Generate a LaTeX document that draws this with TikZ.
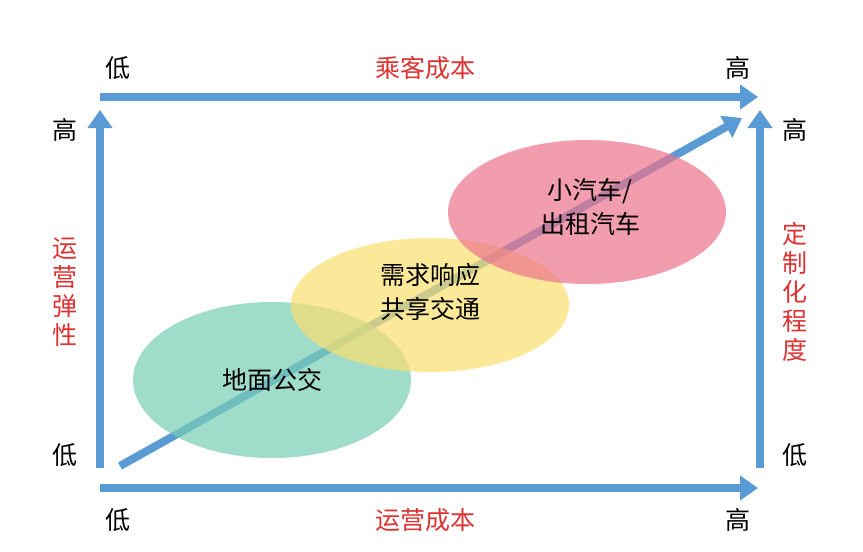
\documentclass[tikz,border=0pt]{standalone}
\usepackage{fontspec}
\newfontfamily\cjk{Noto Sans CJK SC}
\usetikzlibrary{arrows.meta}
\definecolor{ablue}{RGB}{91,155,213}
\definecolor{ared}{RGB}{220,50,50}
\definecolor{egreen}{RGB}{120,205,180}
\definecolor{eyellow}{RGB}{250,222,110}
\definecolor{epink}{RGB}{235,115,140}
\tikzset{
  bigarrow/.style={draw=ablue,line width=8pt,arrows={-Triangle[length=18pt,width=24pt]}},
  lbl/.style={font=\cjk\fontsize{25}{28}\selectfont,text=black},
  rlbl/.style={font=\cjk\fontsize{25}{29}\selectfont,text=ared,align=center},
  ell/.style={fill opacity=0.7,draw=none},
  etext/.style={font=\cjk\fontsize{25}{34}\selectfont,align=center}
}
\begin{document}
\begin{tikzpicture}[x=1pt,y=-1pt]
\useasboundingbox (0,0) rectangle (863,552);
\coordinate (tl) at (100,97); \coordinate (tr) at (758,97);
\coordinate (bl) at (100,488); \coordinate (br) at (758,488);
\coordinate (lb) at (100,468); \coordinate (lt) at (100,110);
\coordinate (rb) at (760,468); \coordinate (rt) at (760,110);
\coordinate (ds) at (120,466); \coordinate (de) at (742,118);
\draw[bigarrow] (tl) -- (tr);
\draw[bigarrow] (bl) -- (br);
\draw[bigarrow] (lb) -- (lt);
\draw[bigarrow] (rb) -- (rt);
\draw[bigarrow] (ds) -- (de);
\fill[egreen,ell] (272,380) ellipse [x radius=139,y radius=78];
\fill[eyellow,ell] (430,305) ellipse [x radius=139,y radius=67];
\fill[epink,ell] (587,212) ellipse [x radius=139,y radius=72];
\node[etext] (e1) at (272,380) {地面公交};
\node[etext] (e2) at (430,292) {需求响应\\共享交通};
\node[etext] (e3) at (590,207) {小汽车/\\出租汽车};
\node[lbl] (a1) at (118,68) {低};
\node[rlbl] (a2) at (425,68) {乘客成本};
\node[lbl] (a3) at (738,68) {高};
\node[lbl] (b1) at (118,520) {低};
\node[rlbl] (b2) at (425,520) {运营成本};
\node[lbl] (b3) at (738,520) {高};
\node[lbl] (c1) at (65,130) {高};
\node[lbl] (c2) at (65,455) {低};
\node[rlbl,text width=28pt] (c3) at (65,292) {运\\营\\弹\\性};
\node[lbl] (d1) at (795,130) {高};
\node[lbl] (d2) at (795,455) {低};
\node[rlbl,text width=28pt] (d3) at (795,292) {定\\制\\化\\程\\度};
\end{tikzpicture}
\end{document}
